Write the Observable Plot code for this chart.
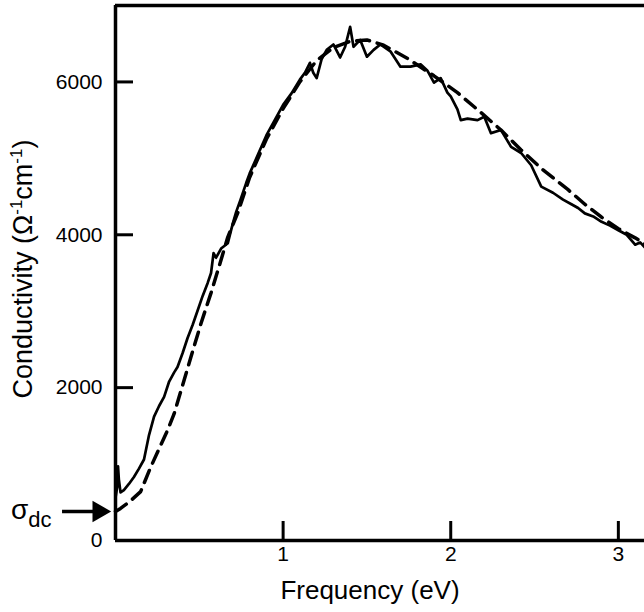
<!DOCTYPE html>
<html><head><meta charset="utf-8">
<script src="https://cdn.jsdelivr.net/npm/d3@7"></script>
<script src="https://cdn.jsdelivr.net/npm/@observablehq/plot@0.6"></script>
<style>body{margin:0;background:#fff} svg{display:block}</style>
</head><body><div id="chart"></div>
<script>
// Measured conductivity (solid)
const measuredX = [0.00,0.01,0.015,0.02,0.03,0.05,0.08,0.11,0.14,0.17,0.20,0.23,0.26,0.29,0.32,0.35,0.37,0.40,0.43,0.46,0.49,0.52,0.55,0.57,0.585,0.60,0.63,0.67,0.70,0.72,0.746,0.78,0.80,0.85,0.90,0.95,1.00,1.05,1.10,1.13,1.16,1.18,1.20,1.23,1.26,1.30,1.34,1.37,1.40,1.42,1.46,1.50,1.54,1.58,1.64,1.70,1.76,1.82,1.86,1.90,1.94,1.98,2.00,2.04,2.06,2.10,2.16,2.20,2.24,2.30,2.36,2.42,2.48,2.54,2.61,2.67,2.72,2.76,2.80,2.85,2.90,2.95,3.00,3.05,3.10,3.13,3.16];
const measuredY = [560,700,970,800,630,660,740,830,940,1060,1380,1620,1760,1880,2080,2200,2270,2450,2650,2820,3010,3200,3370,3500,3760,3700,3820,3890,4150,4300,4460,4680,4800,5050,5300,5500,5700,5850,6030,6120,6250,6120,6050,6300,6420,6490,6320,6460,6720,6460,6550,6330,6420,6490,6400,6200,6200,6230,6150,5990,6050,5860,5810,5640,5500,5520,5500,5545,5330,5370,5150,5070,4910,4630,4550,4460,4400,4350,4280,4240,4170,4120,4060,4000,3870,3900,3830];
// Model fit (dashed)
const fitX = [0.00,0.03,0.08,0.15,0.21,0.26,0.31,0.35,0.40,0.45,0.51,0.57,0.62,0.67,0.73,0.80,0.90,1.00,1.10,1.20,1.30,1.40,1.50,1.60,1.74,1.90,2.04,2.18,2.30,2.42,2.55,2.70,2.80,2.90,3.00,3.10,3.16];
const fitY = [380,420,500,640,960,1200,1440,1660,2030,2400,2840,3240,3600,3970,4290,4750,5250,5650,6000,6280,6450,6530,6550,6480,6310,6080,5860,5600,5370,5110,4850,4590,4400,4230,4080,3960,3880];
const xTicks = [1,2,3];
const yTicks = [0,2000,4000,6000];
const sigmaDc = 380;
const arrowShaftX = [-0.316, -0.10];
const arrowHeadX = -0.10;

const measured = measuredX.map((x,i)=>({x, y: measuredY[i]}));
const fit = fitX.map((x,i)=>({x, y: fitY[i]}));

const font = "'Liberation Sans', Arial, Helvetica, sans-serif";
const fmt = d => String(d);
const chart = Plot.plot({
  width: 644, height: 612,
  marginLeft: 115, marginRight: 0, marginTop: 5, marginBottom: 72,
  style: {fontFamily: font, color: "#000", background: "#fff"},
  x: {domain: [0, 3.156]},
  y: {domain: [0, 7000]},
  marks: [
    Plot.line(fit, {x: "x", y: "y", stroke: "#000", strokeWidth: 3.5, strokeDasharray: "13,8"}),
    Plot.line(measured, {x: "x", y: "y", stroke: "#000", strokeWidth: 2.7, strokeLinejoin: "round"}),
    // inward ticks
    Plot.axisY(yTicks, {tickSize: 18, dx: 18, strokeWidth: 3, tickFormat: () => "", label: null}),
    Plot.axisX(xTicks, {tickSize: 19, dy: -19, strokeWidth: 3, tickFormat: () => "", label: null}),
    // tick labels
    Plot.axisY(yTicks, {tickSize: 0, tickPadding: 13, fontSize: 21, tickFormat: fmt, label: null}),
    Plot.axisX(xTicks, {tickSize: 0, tickPadding: 6, fontSize: 21, tickFormat: fmt, label: null}),
    Plot.ruleX([0], {stroke: "#000", strokeWidth: 3.5}),
    Plot.ruleY([0, 7000], {stroke: "#000", strokeWidth: 3.5}),
    Plot.ruleY([sigmaDc], {x1: arrowShaftX[0], x2: arrowShaftX[1], stroke: "#000", strokeWidth: 3.5}),
    Plot.dot([sigmaDc], {x: () => arrowHeadX, y: d => d, symbol: "triangle", rotate: 90, r: 8, fill: "#000", stroke: "none"})
  ]
});
document.getElementById("chart").appendChild(chart);

const svg = d3.select(chart);
svg.append("text")
  .attr("x", 370).attr("y", 599)
  .attr("text-anchor", "middle")
  .style("font-family", font).style("font-size", "26px").attr("fill", "#000")
  .text("Frequency (eV)");

const yl = svg.append("text")
  .attr("transform", "translate(32,269) rotate(-90)")
  .attr("text-anchor", "middle")
  .style("font-family", font).style("font-size", "27px").attr("fill", "#000");
yl.append("tspan").text("Conductivity (Ω");
yl.append("tspan").attr("dy", -10).style("font-size", "17px").text("-1");
yl.append("tspan").attr("dy", 10).text("cm");
yl.append("tspan").attr("dy", -10).style("font-size", "17px").text("-1");
yl.append("tspan").attr("dy", 10).text(")");

const sd = svg.append("text")
  .attr("x", 11).attr("y", 519)
  .attr("text-anchor", "start")
  .style("font-family", font).style("font-size", "28px").attr("fill", "#000");
sd.append("tspan").text("σ");
sd.append("tspan").attr("dy", 8).style("font-size", "22px").text("dc");
</script></body></html>
